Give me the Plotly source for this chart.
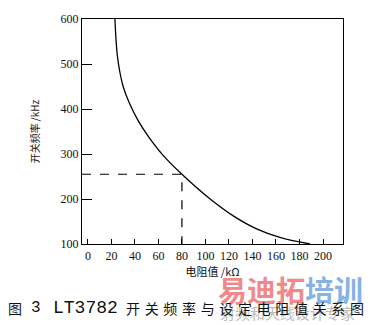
import plotly.graph_objects as go

# Curve: resistance (kΩ) vs switching frequency (kHz)
resistance = [23, 23.8, 25, 27, 30, 35, 43, 52, 64, 80, 104, 124, 144, 164, 189]
frequency = [600, 560, 520, 485, 450, 415, 373, 337, 297, 255, 200, 162, 133, 114, 100]

# Marked operating point
mark_r = 80
mark_f = 255

x_ticks = [0, 20, 40, 60, 80, 100, 120, 140, 160, 180, 200]
y_ticks = [100, 200, 300, 400, 500, 600]

fig = go.Figure()
fig.add_trace(go.Scatter(x=resistance, y=frequency, mode="lines",
                         line=dict(color="black", width=1.3, shape="spline", smoothing=1.0),
                         showlegend=False, hoverinfo="skip"))
fig.add_trace(go.Scatter(x=[-5, mark_r, mark_r], y=[mark_f, mark_f, 100], mode="lines",
                         line=dict(color="black", width=1.2, dash="dash"),
                         showlegend=False, hoverinfo="skip"))

serif = "Liberation Serif"
cjk = "Noto Sans CJK SC"

fig.update_xaxes(range=[-5, 217], tickvals=x_ticks, ticks="inside", ticklen=5,
                 tickcolor="black", showline=True, linecolor="black", linewidth=1.3,
                 mirror=True, showgrid=False, zeroline=False,
                 tickfont=dict(family=serif, size=12, color="#111"),
                 title=dict(text="电阻值 /kΩ", font=dict(family=cjk, size=11, color="#111"), standoff=3))
fig.update_yaxes(range=[100, 600], tickvals=y_ticks, ticks="inside", ticklen=10,
                 tickcolor="black", showline=True, linecolor="black", linewidth=1.3,
                 mirror=True, showgrid=False, zeroline=False,
                 tickfont=dict(family=serif, size=12, color="#111"),
                 title=dict(text="开关频率 /kHz", font=dict(family=cjk, size=10, color="#222"), standoff=18))

L, T, W, H = 82, 12, 261, 232


def px(x):
    return (x - L) / W


def py(y):
    return (T + H - y) / H


# watermark (behind caption)
fig.add_annotation(text="<b><span style='color:#f08a8a'>易迪拓</span><span style='color:#86b2e4'>培训</span></b>",
                   xref="paper", yref="paper", x=px(216), y=py(290), xanchor="left", yanchor="middle",
                   showarrow=False, font=dict(family=cjk, size=29, color="#f08a8a"))
fig.add_annotation(text="射频和天线设计专家", xref="paper", yref="paper",
                   x=px(218), y=py(315), xanchor="left", yanchor="middle", showarrow=False,
                   font=dict(family=cjk, size=15, color="#bdbdbd"))

# caption
cap_font = dict(family=cjk, size=14, color="#111")
fig.add_annotation(text="图", xref="paper", yref="paper", x=px(6), y=py(310),
                   xanchor="left", yanchor="middle", showarrow=False, font=cap_font)
fig.add_annotation(text="3", xref="paper", yref="paper", x=px(29), y=py(310),
                   xanchor="left", yanchor="middle", showarrow=False,
                   font=dict(family="Liberation Mono", size=16, color="#111"))
fig.add_annotation(text="LT3782", xref="paper", yref="paper", x=px(51), y=py(310),
                   xanchor="left", yanchor="middle", showarrow=False,
                   font=dict(family="Liberation Mono", size=18, color="#111"))
fig.add_annotation(text="\u2004".join("开关频率与设定电阻值关系图"), xref="paper", yref="paper",
                   x=px(124), y=py(310), xanchor="left", yanchor="middle", showarrow=False,
                   font=cap_font)

fig.update_layout(width=370, height=325, margin=dict(l=82, r=27, t=12, b=81),
                  paper_bgcolor="white", plot_bgcolor="white")
fig.write_html("out.html")
